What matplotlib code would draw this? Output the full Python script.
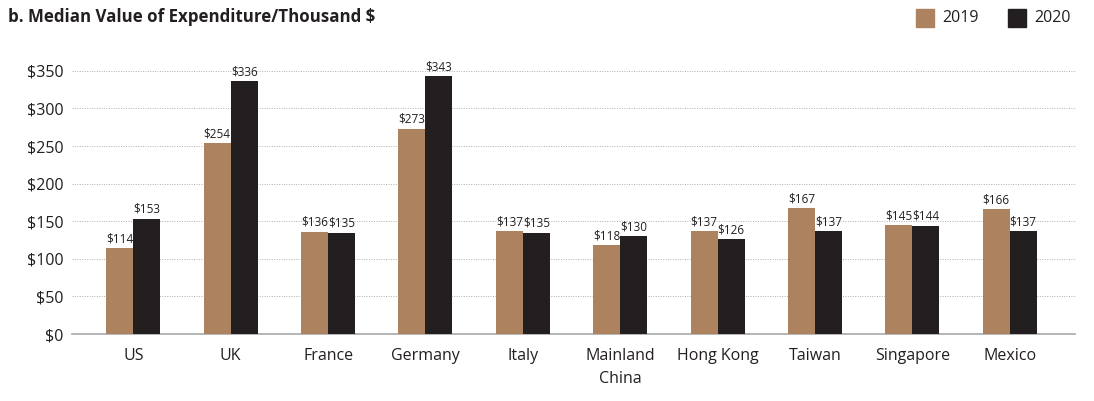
import matplotlib.pyplot as plt
import numpy as np

plt.rcParams['font.family'] = ['Open Sans', 'DejaVu Sans']

countries = ['US', 'UK', 'France', 'Germany', 'Italy', 'Mainland\nChina',
             'Hong Kong', 'Taiwan', 'Singapore', 'Mexico']
values_2019 = [114, 254, 136, 273, 137, 118, 137, 167, 145, 166]
values_2020 = [153, 336, 135, 343, 135, 130, 126, 137, 144, 137]

c2019 = '#AD825E'
c2020 = '#231F20'

fig = plt.figure(figsize=(10.94, 4.01), dpi=100)
ax = fig.add_axes([0.0658, 0.167, 0.9168, 0.675])

x = np.arange(len(countries))
w = 0.277
b1 = ax.bar(x - w / 2, values_2019, w, color=c2019, zorder=3)
b2 = ax.bar(x + w / 2, values_2020, w, color=c2020, zorder=3)

for bars in (b1, b2):
    for bar in bars:
        h = bar.get_height()
        ax.text(bar.get_x() + bar.get_width() / 2, h + 4, f'${h:.0f}',
                ha='center', va='bottom', fontsize=8.5, color='#231F20')

ax.set_xlim(-0.63, 9.67)
ax.set_ylim(0, 360)
ax.set_yticks(np.arange(0, 351, 50))
ax.set_yticklabels([f'${v}' for v in range(0, 351, 50)])
ax.set_xticks(x)
ax.set_xticklabels(countries, linespacing=1.55)
ax.tick_params(axis='both', length=0, labelsize=11.5, colors='#231F20')
ax.tick_params(axis='x', pad=10)
ax.tick_params(axis='y', pad=6)

ax.grid(axis='y', linestyle=(0, (1, 1.5)), color='#B0B0B0', linewidth=0.7, zorder=0)
for s in ['top', 'right', 'left']:
    ax.spines[s].set_visible(False)
ax.spines['bottom'].set_color('#A7A9AC')
ax.spines['bottom'].set_linewidth(1.2)

fig.text(0.0075, 0.957, 'b. Median Value of Expenditure/Thousand $', fontsize=12.2,
         fontweight='bold', color='#231F20', va='center')

# legend
for xs, col, lab in [(0.8375, c2019, '2019'), (0.921, c2020, '2020')]:
    fig.patches.append(plt.Rectangle((xs, 0.932), 0.0165, 0.045, color=col,
                                     transform=fig.transFigure, figure=fig))
    fig.text(xs + 0.024, 0.955, lab, fontsize=11.5, color='#231F20', va='center')

plt.savefig('out.png', dpi=100)
